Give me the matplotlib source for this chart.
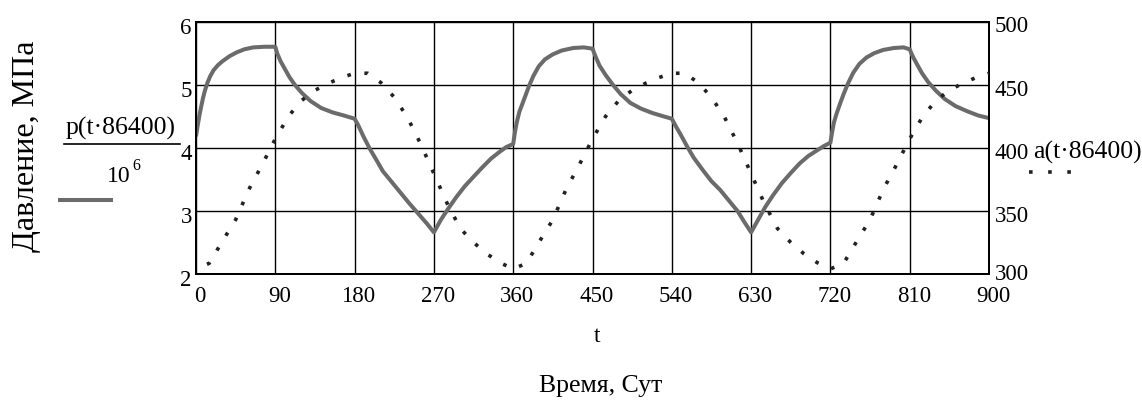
import matplotlib
matplotlib.use("Agg")
import matplotlib.pyplot as plt
from matplotlib.lines import Line2D
from matplotlib.transforms import ScaledTranslation

plt.rcParams['font.family'] = ['Liberation Serif', 'DejaVu Serif']

# pressure p(t*86400)/1e6, MPa, sampled on a non-uniform day grid
t_p = [0, 2, 4, 6, 8, 10, 13, 16, 20, 25, 30, 38, 46, 55, 65, 78, 90,
       92, 96, 100, 106, 112, 120, 130, 142, 155, 168, 180,
       184, 190, 197, 205, 212, 222, 232, 242, 252, 262, 270,
       278, 286, 295, 305, 315, 325, 335, 345, 352, 360,
       362, 364, 367, 370, 374, 378, 383, 389, 396, 405, 415, 428, 440, 450,
       453, 458, 465, 473, 482, 493, 505, 518, 530, 540,
       545, 550, 557, 565, 575, 585, 595, 605, 615, 622, 630,
       638, 646, 655, 665, 675, 685, 695, 705, 713, 720,
       722, 724, 727, 731, 735, 740, 746, 753, 761, 770, 780, 792, 803, 810,
       813, 818, 824, 831, 840, 850, 862, 875, 888, 900]
p_mpa = [4.18, 4.36, 4.52, 4.66, 4.79, 4.90, 5.03, 5.13, 5.23, 5.31, 5.37, 5.45, 5.51, 5.56, 5.59, 5.60, 5.60,
         5.50, 5.37, 5.27, 5.12, 5.00, 4.87, 4.74, 4.63, 4.56, 4.51, 4.46,
         4.36, 4.18, 3.99, 3.80, 3.63, 3.46, 3.29, 3.12, 2.96, 2.80, 2.66,
         2.86, 3.03, 3.21, 3.39, 3.54, 3.69, 3.83, 3.94, 4.01, 4.06,
         4.25, 4.40, 4.57, 4.68, 4.83, 4.98, 5.14, 5.29, 5.40, 5.48, 5.54, 5.58, 5.59, 5.57,
         5.46, 5.30, 5.15, 5.00, 4.85, 4.71, 4.62, 4.55, 4.50, 4.46,
         4.33, 4.21, 4.03, 3.84, 3.65, 3.47, 3.33, 3.16, 2.99, 2.83, 2.66,
         2.86, 3.06, 3.25, 3.44, 3.60, 3.75, 3.87, 3.96, 4.03, 4.08,
         4.25, 4.40, 4.54, 4.70, 4.85, 5.02, 5.19, 5.33, 5.43, 5.50, 5.55, 5.58, 5.59, 5.56,
         5.46, 5.33, 5.18, 5.04, 4.90, 4.77, 4.66, 4.58, 4.51, 4.47]

# a(t*86400), every 15 days
t_a = list(range(0, 901, 15))
a_val = [304, 308.5, 326, 343, 367, 386.5, 407, 425, 437.5, 445.5, 451, 455.5,
         459, 459, 451.5, 440, 424, 403, 379.5, 356, 336, 325, 316, 309,
         304, 308.5, 326, 343, 367, 386.5, 407, 425, 437.5, 445.5, 451, 455.5,
         459, 459, 451.5, 440, 424, 403, 379.5, 356, 336, 325, 316, 309,
         304, 308.5, 326, 343, 367, 386.5, 407, 425, 437.5, 445.5, 451, 455.5,
         459]

x_ticks = [0, 90, 180, 270, 360, 450, 540, 630, 720, 810, 900]
p_ticks = [2, 3, 4, 5, 6]
a_ticks = [300, 350, 400, 450, 500]

W, H = 1142, 401
fig = plt.figure(figsize=(W / 100, H / 100), dpi=100)
ax = fig.add_axes([196 / W, 1 - 274 / H, 793 / W, 252.5 / H])
ax2 = ax.twinx()

line_grey = '#6b6b6b'
dot_col = '#222222'
dot_style = (1.5, (1, 3.8))

ax.plot(t_p, p_mpa, color=line_grey, lw=2.9, solid_joinstyle='round',
        solid_capstyle='butt', zorder=3)
ax2.plot(t_a, a_val, color=dot_col, lw=2.6, linestyle=dot_style,
         dash_capstyle='butt', zorder=3)

ax.set_xlim(0, 900)
ax.set_ylim(2, 6)
ax2.set_ylim(300, 500)
ax.set_xticks(x_ticks)
ax.set_yticks(p_ticks)
ax2.set_yticks(a_ticks)
ax.grid(True, color='black', lw=1.0)
for a in (ax, ax2):
    for s in a.spines.values():
        s.set_linewidth(1.4)
        s.set_color('black')
ax.tick_params(axis='both', length=0, labelsize=16.5)
ax.tick_params(axis='x', pad=9)
ax.tick_params(axis='y', pad=3)
ax2.tick_params(axis='y', length=0, labelsize=16.5, pad=4)

# nudge tick labels the way the original renderer places them
for lab in ax.get_xticklabels():
    lab.set_transform(lab.get_transform() + ScaledTranslation(4 / 100, 0, fig.dpi_scale_trans))
for lab in ax.get_yticklabels():
    lab.set_transform(lab.get_transform() + ScaledTranslation(0, -4 / 100, fig.dpi_scale_trans))
for lab in ax2.get_yticklabels()[1:]:
    lab.set_transform(lab.get_transform() + ScaledTranslation(0, -3 / 100, fig.dpi_scale_trans))
# the bottom right label sits a little higher so it clears "900"
lab300 = ax2.get_yticklabels()[0]
lab300.set_transform(lab300.get_transform() + ScaledTranslation(0, 2 / 100, fig.dpi_scale_trans))


def fx(px):
    return px / W


def fy(py):
    return 1 - py / H


# left axis title and trace label
fig.text(fx(27), fy(146), 'Давление, МПа', rotation=90, fontsize=23,
         ha='center', va='center')
fig.text(fx(121), fy(128), 'p(t·86400)', fontsize=18.5, ha='center', va='center')
fig.add_artist(Line2D([fx(64), fx(180)], [fy(143.5), fy(143.5)], color='black', lw=1.2))
fig.text(fx(119), fy(177), '10', fontsize=17, ha='center', va='center')
fig.text(fx(136), fy(166), '6', fontsize=11.5, ha='center', va='center')
fig.add_artist(Line2D([fx(58), fx(113)], [fy(200), fy(200)], color=line_grey, lw=2.9,
                      solid_capstyle='butt'))

# right trace label
fig.text(fx(1033), fy(152), 'a(t·86400)', fontsize=18.5, ha='left', va='center')
fig.add_artist(Line2D([fx(1029), fx(1071)], [fy(172), fy(172)], color=dot_col,
                      lw=2.6, linestyle=(0, (1, 4.3)), dash_capstyle='butt'))

# x axis titles
fig.text(fx(597), fy(336), 't', fontsize=17, ha='center', va='center')
fig.text(fx(601), fy(386), 'Время, Сут', fontsize=18.5, ha='center', va='center')

fig.savefig('out.png', dpi=100, facecolor='white')
